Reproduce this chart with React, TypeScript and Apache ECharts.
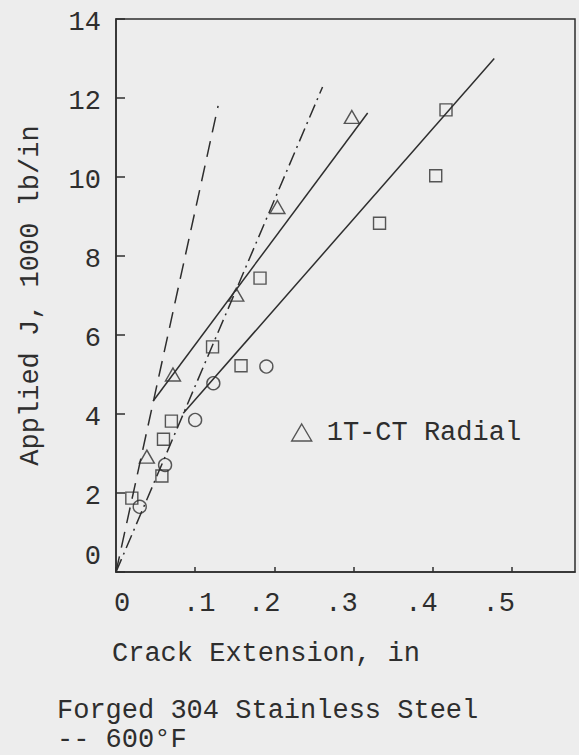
import React, { useEffect, useRef } from "react";
import * as echarts from "echarts";

// ---- data ----
const xTickLabels = ["0", ".1", ".2", ".3", ".4", ".5"];
const yTickLabels = ["0", "2", "4", "6", "8", "10", "12", "14"];

const triangleData: number[][] = [
  [0.039, 2.92],
  [0.072, 5.0],
  [0.152, 7.02],
  [0.204, 9.24],
  [0.298, 11.52],
];
const squareData: number[][] = [
  [0.02, 1.87],
  [0.058, 2.43],
  [0.06, 3.36],
  [0.07, 3.82],
  [0.122, 5.7],
  [0.158, 5.22],
  [0.182, 7.44],
  [0.333, 8.83],
  [0.404, 10.03],
  [0.417, 11.7],
];
const circleData: number[][] = [
  [0.03, 1.65],
  [0.062, 2.71],
  [0.1, 3.85],
  [0.123, 4.78],
  [0.19, 5.2],
];
const bluntingLine: number[][] = [
  [0, 0],
  [0.129, 11.8],
];
const dashDotLine: number[][] = [
  [0, 0],
  [0.261, 12.28],
];
const upperFit: number[][] = [
  [0.047, 4.33],
  [0.318, 11.62],
];
const lowerFit: number[][] = [
  [0.085, 4.02],
  [0.478, 13.0],
];

const FONT = "Liberation Mono";
const FS = 27;
const INK = "#2e2e2e";
const BG = "#ededed";

// small per-label nudges so the typed tick labels sit as in the original
const xLabelPad: number[][] = [
  [0, 0, 0, 12],
  [0, 0, 0, 8],
  [0, 20, 0, 0],
  [0, 24, 0, 0],
  [0, 22, 0, 0],
  [0, 26, 0, 0],
];

export default function App() {
  const ref = useRef<HTMLDivElement>(null);

  useEffect(() => {
    if (!ref.current) return;
    const chart = echarts.init(ref.current, undefined, { renderer: "svg" });

    const markerStyle = {
      color: "transparent",
      borderColor: INK,
      borderWidth: 1.4,
    };

    const xRich: Record<string, any> = {};
    xLabelPad.forEach((p, i) => {
      xRich["a" + i] = { fontFamily: FONT, fontSize: FS, color: INK, padding: p };
    });

    chart.setOption({
      animation: false,
      backgroundColor: BG,
      textStyle: { fontFamily: FONT, color: INK },
      grid: {
        left: 116,
        top: 19,
        right: 4,
        bottom: 183,
        show: true,
        borderColor: INK,
        borderWidth: 1.5,
      },
      legend: {
        data: ["1T-CT Radial"],
        left: 286,
        top: 414,
        icon: "triangle",
        itemWidth: 20,
        itemHeight: 17,
        itemGap: 10,
        textStyle: {
          fontFamily: FONT,
          fontSize: FS,
          color: INK,
          padding: [0, 0, 0, 10],
        },
        itemStyle: { color: "transparent", borderColor: INK, borderWidth: 1.4 },
      },
      xAxis: {
        type: "value",
        min: 0,
        max: 0.58,
        interval: 0.1,
        splitLine: { show: false },
        axisLine: { show: true, lineStyle: { color: INK, width: 1.5 } },
        axisTick: { show: true, inside: true, length: 5, lineStyle: { color: INK, width: 1.5 } },
        axisLabel: {
          margin: 18,
          fontFamily: FONT,
          fontSize: FS,
          color: INK,
          showMaxLabel: false,
          formatter: (v: number) => {
            const i = Math.round(v * 10);
            if (Math.abs(v * 10 - i) > 1e-6) return "";
            const lbl = xTickLabels[i];
            return lbl === undefined ? "" : "{a" + i + "|" + lbl + "}";
          },
          rich: xRich,
        },
      },
      yAxis: {
        type: "value",
        min: 0,
        max: 14,
        interval: 2,
        name: "Applied J, 1000 lb/in",
        nameLocation: "middle",
        nameGap: 72,
        nameTextStyle: { fontFamily: FONT, fontSize: FS, color: INK },
        splitLine: { show: false },
        axisLine: { show: true, lineStyle: { color: INK, width: 1.5 } },
        axisTick: { show: true, inside: true, length: 9, lineStyle: { color: INK, width: 1.5 } },
        axisLabel: {
          margin: 15,
          fontFamily: FONT,
          fontSize: FS,
          color: INK,
          formatter: (v: number) => {
            const lbl = yTickLabels[Math.round(v / 2)] ?? "";
            return v === 0 ? "{z|" + lbl + "}" : "{n|" + lbl + "}";
          },
          rich: {
            n: { fontFamily: FONT, fontSize: FS, color: INK, padding: [7, 0, 0, 0] },
            z: { fontFamily: FONT, fontSize: FS, color: INK, padding: [0, 0, 30, 0] },
          },
        },
      },
      series: [
        {
          name: "blunting",
          type: "line",
          data: bluntingLine,
          symbol: "none",
          lineStyle: { color: INK, width: 1.5, type: [16, 9] },
        },
        {
          name: "dashdot",
          type: "line",
          data: dashDotLine,
          symbol: "none",
          lineStyle: { color: INK, width: 1.5, type: [14, 5, 2, 5] },
        },
        {
          name: "upper",
          type: "line",
          data: upperFit,
          symbol: "none",
          lineStyle: { color: INK, width: 1.5 },
        },
        {
          name: "lower",
          type: "line",
          data: lowerFit,
          symbol: "none",
          lineStyle: { color: INK, width: 1.5 },
        },
        {
          name: "1T-CT Radial",
          type: "scatter",
          data: triangleData,
          symbol: "triangle",
          symbolSize: [15, 13],
          itemStyle: markerStyle,
        },
        {
          name: "squares",
          type: "scatter",
          data: squareData,
          symbol: "rect",
          symbolSize: 12,
          itemStyle: markerStyle,
        },
        {
          name: "circles",
          type: "scatter",
          data: circleData,
          symbol: "circle",
          symbolSize: 13,
          itemStyle: markerStyle,
        },
      ],
      graphic: [
        {
          type: "text",
          left: 112,
          top: 640,
          style: { text: "Crack Extension, in", font: `${FS}px "${FONT}"`, fill: INK },
        },
        {
          type: "text",
          left: 57,
          top: 697,
          style: { text: "Forged 304 Stainless Steel", font: `${FS}px "${FONT}"`, fill: INK },
        },
        {
          type: "text",
          left: 57,
          top: 726,
          style: { text: "-- 600°F", font: `${FS}px "${FONT}"`, fill: INK },
        },
      ],
    });

    return () => chart.dispose();
  }, []);

  return (
    <div
      ref={ref}
      style={{ position: "fixed", left: 0, top: 0, width: 579, height: 755 }}
    />
  );
}
